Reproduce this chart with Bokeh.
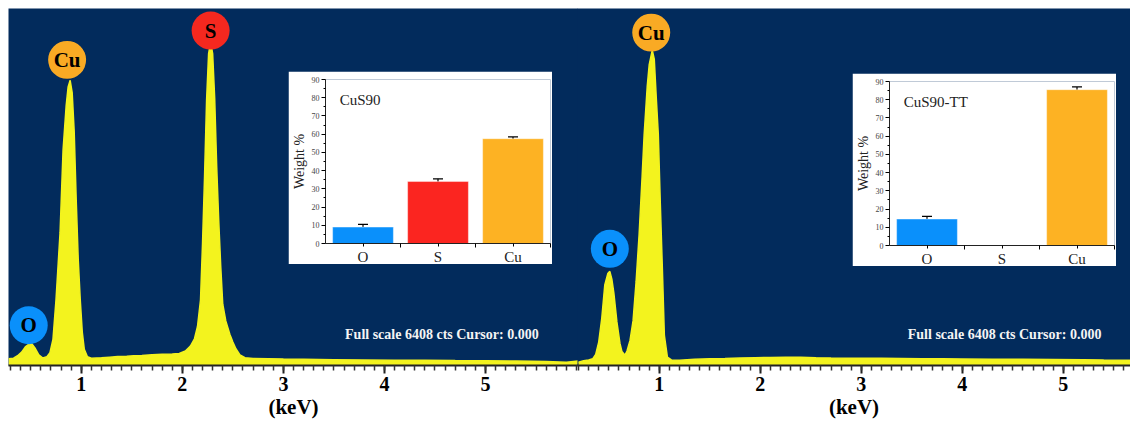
from bokeh.plotting import figure
from bokeh.models import ColumnDataSource, Whisker, TeeHead, FixedTicker, Label, Range1d
from bokeh.layouts import row
from bokeh.embed import file_html
from bokeh.resources import INLINE
from bokeh.core.properties import value

# ---------------- data ----------------
left_kev = [0.28, 0.33, 0.37, 0.41, 0.45, 0.49, 0.51, 0.54, 0.58, 0.62, 0.66, 0.69, 0.72, 0.75,
            0.79, 0.82, 0.85, 0.87, 0.89, 0.91, 0.93, 0.95, 0.97, 0.99, 1.01, 1.03, 1.06, 1.10,
            1.20, 1.28, 1.36, 1.45, 1.52, 1.60, 1.70, 1.80, 1.90, 1.97, 2.03, 2.08, 2.12, 2.15,
            2.18, 2.20, 2.22, 2.24, 2.26, 2.28, 2.30, 2.32, 2.34, 2.36, 2.38, 2.40, 2.43, 2.47,
            2.50, 2.53, 2.57, 2.62, 2.70, 2.85, 3.00, 3.20, 3.50, 3.80, 4.10, 4.40, 4.70, 5.00,
            5.30, 5.60, 5.80, 5.92]
left_cts = [120, 130, 175, 240, 340, 395, 390, 320, 190, 135, 160, 230, 470, 1180,
            2380, 3870, 4650, 5000, 5120, 4900, 4200, 2970, 1900, 1180, 600, 290, 160, 130,
            140, 150, 160, 165, 175, 180, 195, 200, 205, 215, 260, 350, 480, 700,
            1180, 2200, 3400, 4760, 5600, 5800, 5600, 4800, 3570, 2600, 1780, 1100, 800, 560,
            420, 300, 190, 140, 125, 120, 115, 110, 105, 100, 95, 92, 88, 85,
            80, 70, 60, 80]

right_kev = [0.20, 0.25, 0.30, 0.34, 0.37, 0.40, 0.43, 0.46, 0.49, 0.51, 0.53, 0.55, 0.58, 0.61,
             0.63, 0.66, 0.68, 0.71, 0.74, 0.77, 0.80, 0.83, 0.85, 0.88, 0.90, 0.93, 0.95, 0.97,
             0.99, 1.01, 1.03, 1.05, 1.08, 1.12, 1.20, 1.35, 1.50, 1.65, 1.80, 1.95, 2.10, 2.25,
             2.40, 2.55, 2.70, 2.85, 3.00, 3.20, 3.40, 3.60, 3.80, 4.00, 4.30, 4.60, 4.90, 5.20,
             5.40, 5.67]
right_cts = [60, 85, 100, 120, 200, 420, 843, 1445, 1650, 1690, 1550, 1300, 783, 400,
             250, 185, 260, 450, 800, 1500, 2350, 3400, 4150, 5000, 5400, 5660, 5500, 4800,
             4150, 2900, 1750, 540, 150, 100, 95, 110, 120, 125, 135, 140, 145, 150,
             150, 140, 135, 132, 130, 128, 125, 122, 120, 118, 112, 110, 108, 105,
             100, 95]

left_peak_labels = ["O", "Cu", "S"]
left_peak_kev = [0.48, 0.86, 2.28]
left_peak_cts = [722, 5486, 6011]

right_peak_labels = ["O", "Cu"]
right_peak_kev = [0.51, 0.92]
right_peak_cts = [2094, 5975]

full_scale_text = "Full scale 6408 cts Cursor: 0.000"

elements = ["O", "S", "Cu"]
cus90_wt = [9.0, 34.0, 57.5]
cus90_err = [1.5, 1.5, 1.0]
cus90tt_wt = [14.5, 0.0, 85.5]
cus90tt_err = [1.5, 0.0, 1.5]

# ---------------- styles ----------------
NAVY = "#022b5c"
YELLOW = "#f3f31e"
EL_COLORS = {"O": "#0a90fb", "S": "#f5281f", "Cu": "#f9aa24"}
BAR_COLORS = {"O": "#0a90fb", "S": "#fb2520", "Cu": "#fdb223"}
SERIF = "Liberation Serif"


def spectrum(kev, cts, x0, x1, width, border_left, labels, lab_kev, lab_cts, fs_x):
    p = figure(width=width, height=421, x_range=Range1d(x0, x1), y_range=Range1d(0, 6408),
               output_backend="svg", toolbar_location=None, title=None,
               min_border_left=border_left, min_border_right=0, min_border_top=8,
               min_border_bottom=0)
    p.background_fill_color = NAVY
    p.border_fill_color = "white"
    p.outline_line_color = None
    p.grid.visible = False
    p.yaxis.visible = False
    p.varea(x=kev, y1=0, y2=cts, fill_color=YELLOW)
    p.line(kev, cts, line_color=YELLOW, line_width=1.5)

    src = ColumnDataSource(dict(x=lab_kev, y=lab_cts, t=labels,
                                c=[EL_COLORS[l] for l in labels]))
    p.scatter("x", "y", source=src, size=38, fill_color="c", line_color=None)
    p.text("x", "y", text="t", source=src, text_align="center", text_baseline="middle",
           text_font=value(SERIF), text_font_style="bold", text_font_size="21px",
           text_color="black")

    p.add_layout(Label(x=fs_x, y=560, text=full_scale_text, text_color="#f4f4f4",
                       text_font=SERIF, text_font_style="bold", text_font_size="14px",
                       text_baseline="middle"))

    ax = p.xaxis[0]
    ax.ticker = FixedTicker(ticks=[1, 2, 3, 4, 5],
                            minor_ticks=[i / 10 for i in range(1, 60)])
    ax.axis_label = "(keV)"
    ax.axis_label_text_font = SERIF
    ax.axis_label_text_font_style = "bold"
    ax.axis_label_text_font_size = "21px"
    ax.axis_label_text_color = "black"
    ax.axis_label_standoff = 1
    ax.major_label_text_font = SERIF
    ax.major_label_text_font_style = "bold"
    ax.major_label_text_font_size = "20px"
    ax.major_label_text_color = "black"
    ax.major_label_standoff = 3
    ax.axis_line_color = "#222222"
    ax.axis_line_width = 2
    ax.major_tick_in = 0
    ax.major_tick_out = 8
    ax.major_tick_line_width = 2
    ax.major_tick_line_color = "#222222"
    ax.minor_tick_in = 0
    ax.minor_tick_out = 5
    ax.minor_tick_line_width = 1.5
    ax.minor_tick_line_color = "#333333"
    return p


def inset(wt, err, title, left, top):
    xs = [1, 2, 3]
    p = figure(frame_width=225, frame_height=164, x_range=Range1d(0.5, 3.5),
               y_range=Range1d(0, 90),
               output_backend="svg", toolbar_location=None, title=None,
               min_border_left=20, min_border_right=2, min_border_top=5, min_border_bottom=0)
    p.background_fill_color = "white"
    p.border_fill_color = "white"
    p.outline_line_color = None
    p.grid.visible = False
    p.vbar(x=xs, top=wt, width=0.81, fill_color=[BAR_COLORS[e] for e in elements],
           line_color="#ffffff", line_width=1, line_alpha=0.4)

    wx = [x for x, w in zip(xs, wt) if w > 0]
    up = [w + e for w, e in zip(wt, err) if w > 0]
    lo = [w - e for w, e in zip(wt, err) if w > 0]
    wsrc = ColumnDataSource(dict(x=wx, upper=up, lower=lo))
    p.add_layout(Whisker(base="x", upper="upper", lower="lower", source=wsrc,
                         line_color="black", line_width=1.2,
                         upper_head=TeeHead(size=10, line_color="black", line_width=1.2),
                         lower_head=TeeHead(size=10, line_color="black", line_width=1.2)))

    p.add_layout(Label(x=0.69, y=79, text=title, text_font=SERIF, text_font_size="15px",
                       text_color="#222222", text_baseline="middle"))

    xa = p.xaxis[0]
    xa.ticker = FixedTicker(ticks=xs, minor_ticks=[1.5, 2.5, 3.5])
    xa.major_label_overrides = {1: "O", 2: "S", 3: "Cu"}
    xa.major_label_text_font = SERIF
    xa.major_label_text_font_size = "15px"
    xa.major_label_text_color = "#222222"
    xa.major_label_standoff = 1
    xa.major_tick_in = 0
    xa.major_tick_out = 3
    xa.minor_tick_in = 0
    xa.minor_tick_out = 4
    xa.axis_line_color = "#222222"

    ya = p.yaxis[0]
    ya.ticker = FixedTicker(ticks=list(range(0, 91, 10)), minor_ticks=list(range(5, 90, 10)))
    ya.axis_label = "Weight %"
    ya.axis_label_text_font = SERIF
    ya.axis_label_text_font_style = "normal"
    ya.axis_label_text_font_size = "14px"
    ya.axis_label_text_color = "#222222"
    ya.axis_label_standoff = 2
    ya.major_label_text_font = SERIF
    ya.major_label_text_font_size = "8px"
    ya.major_label_text_color = "#444444"
    ya.major_label_standoff = 2
    ya.major_tick_in = 0
    ya.major_tick_out = 4
    ya.minor_tick_in = 0
    ya.minor_tick_out = 2
    ya.axis_line_color = "#222222"

    p.styles = {"position": "absolute", "left": f"{left}px", "top": f"{top}px", "z-index": "10"}
    return p


left_main = spectrum(left_kev, left_cts, 0.28, 5.92, 578, 8,
                     left_peak_labels, left_peak_kev, left_peak_cts, 3.61)
right_main = spectrum(right_kev, right_cts, 0.19, 5.665, 553, 0,
                      right_peak_labels, right_peak_kev, right_peak_cts, 3.46)
right_main.styles = {"margin-left": "-1px"}
inset_left = inset(cus90_wt, cus90_err, "CuS90", 288, 71)
inset_right = inset(cus90tt_wt, cus90tt_err, "CuS90-TT", 852, 73)

layout = row(left_main, right_main, inset_left, inset_right)

open("out.html", "w").write(file_html(layout, INLINE))
